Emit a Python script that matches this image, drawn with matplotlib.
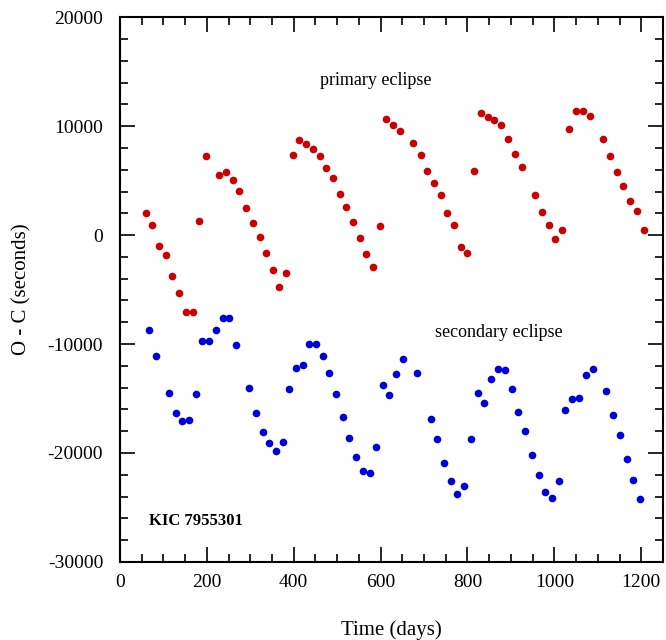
import matplotlib
matplotlib.use("Agg")
import matplotlib.pyplot as plt
from matplotlib.ticker import MultipleLocator

## O-C values (days, seconds)

primary_t = [60, 75, 90, 106, 121, 136, 152, 168, 182, 198,
             229, 244, 260, 275, 290, 306, 322, 336, 352, 367, 383,
             398, 413, 428, 444, 460, 475, 491, 506, 521, 536, 552, 567, 583, 598,
             613, 629, 645, 675, 692, 707, 722, 738, 754, 769, 785, 800, 816,
             831, 847, 862, 878, 894, 909, 925, 956, 971, 987, 1002, 1018,
             1034, 1050, 1065, 1081, 1112, 1128, 1144, 1158, 1175, 1190, 1206]
primary_oc = [2000, 900, -1000, -1800, -3750, -5300, -7050, -7050, 1300, 7250,
              5500, 5800, 5050, 4050, 2500, 1150, -200, -1600, -3200, -4800, -3500,
              7350, 8750, 8400, 7950, 7250, 6150, 5250, 3750, 2600, 1250, -250, -1750, -2950, 850,
              10650, 10100, 9550, 8450, 7400, 5850, 4750, 3650, 2000, 900, -1050, -1600, 5900,
              11250, 10800, 10600, 10150, 8850, 7450, 6300, 3700, 2100, 900, -400, 450,
              9750, 11400, 11400, 10900, 8850, 7300, 5800, 4500, 3150, 2200, 500]

secondary_t = [67, 83, 113, 129, 144, 160, 175, 190, 205, 221, 237, 252, 267,
               298, 313, 329, 344, 359, 375, 389, 405, 421, 436, 451, 467, 482,
               497, 513, 528, 544, 559, 575, 589, 605, 620, 636, 652, 683,
               715, 730, 746, 762, 777, 793, 808, 824, 839, 855, 870, 886, 902,
               917, 932, 949, 964, 979, 994, 1010, 1025, 1041, 1057, 1073, 1088,
               1119, 1134, 1151, 1166, 1182, 1197]
secondary_oc = [-8700, -11050, -14500, -16300, -17100, -16950, -14600, -9700, -9750, -8700, -7600, -7600, -10050,
                -14000, -16300, -18100, -19050, -19850, -18950, -14150, -12200, -11950, -10000, -9950, -11050, -12650,
                -14550, -16700, -18650, -20350, -21650, -21800, -19450, -13750, -14650, -12750, -11400, -12700,
                -16850, -18750, -20900, -22600, -23750, -23000, -18750, -14500, -15450, -13200, -12250, -12350, -14100,
                -16250, -17950, -20200, -22050, -23550, -24150, -22550, -16050, -15000, -14950, -12800, -12300,
                -14350, -16500, -18350, -20550, -22500, -24200]

plt.rcParams['font.family'] = ['Liberation Serif', 'DejaVu Serif']
plt.rcParams['axes.unicode_minus'] = False

fig = plt.figure(figsize=(6.66, 6.4), dpi=100)
ax = fig.add_axes([0.180, 0.122, 0.8155, 0.851])

ax.plot(primary_t, primary_oc, 'o', color='#cc0000', markersize=5.5, markeredgewidth=0)
ax.plot(secondary_t, secondary_oc, 'o', color='#0000dd', markersize=5.5, markeredgewidth=0)

ax.set_xlim(0, 1250)
ax.set_ylim(-30000, 20000)
ax.xaxis.set_major_locator(MultipleLocator(200))
ax.xaxis.set_minor_locator(MultipleLocator(50))
ax.yaxis.set_major_locator(MultipleLocator(10000))
ax.yaxis.set_minor_locator(MultipleLocator(2000))
ax.tick_params(which='both', direction='in', top=True, right=True, width=1.2, labelsize=14)
ax.tick_params(which='major', length=11)
ax.tick_params(which='minor', length=6)
ax.tick_params(axis='y', which='major', pad=12)
ax.tick_params(axis='x', which='major', pad=9)
for s in ax.spines.values():
    s.set_linewidth(1.5)

ax.set_xlabel("Time (days)", fontsize=15, labelpad=21)
ax.set_ylabel("O - C (seconds)", fontsize=15, labelpad=12)

ax.text(590, 14200, "primary eclipse", fontsize=13, ha='center', va='center')
ax.text(873, -8950, "secondary eclipse", fontsize=13, ha='center', va='center')
ax.text(68, -26200, "KIC 7955301", fontsize=12, fontweight='bold', ha='left', va='center')

fig.savefig("out.png", dpi=100)
